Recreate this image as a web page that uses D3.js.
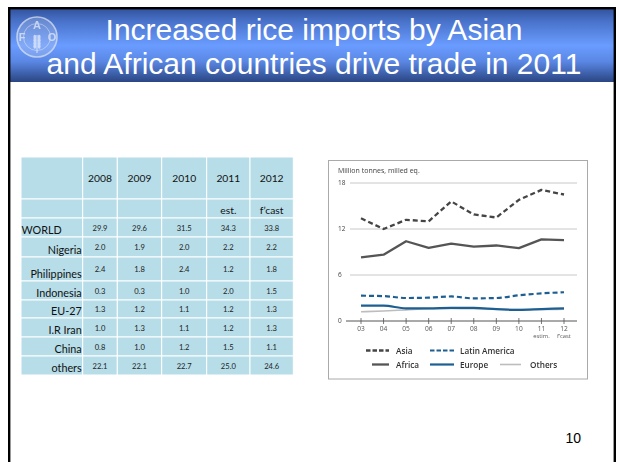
<!DOCTYPE html>
<html>
<head>
<meta charset="utf-8">
<script src="https://cdn.jsdelivr.net/npm/d3@7"></script>
<style>
  html, body { margin: 0; padding: 0; background: #fff; }
  svg { display: block; }
</style>
</head>
<body>
<svg id="slide" width="619" height="462"></svg>
<script>
// ---- Slide title ----
const titleLines = ["Increased rice imports by Asian", "and African countries drive trade in 2011"];
const pageNumber = "10";

// ---- Table: rice imports (million tonnes) ----
const tableYears = ["2008", "2009", "2010", "2011", "2012"];
const tableNotes = ["", "", "", "est.", "f\u2019cast"];
const countries = ["WORLD", "Nigeria", "Philippines", "Indonesia", "EU-27", "I.R Iran", "China", "others"];
const world       = [29.9, 29.6, 31.5, 34.3, 33.8];
const nigeria     = [2.0, 1.9, 2.0, 2.2, 2.2];
const philippines = [2.4, 1.8, 2.4, 1.2, 1.8];
const indonesia   = [0.3, 0.3, 1.0, 2.0, 1.5];
const eu27        = [1.3, 1.2, 1.1, 1.2, 1.3];
const iran        = [1.0, 1.3, 1.1, 1.2, 1.3];
const china       = [0.8, 1.0, 1.2, 1.5, 1.1];
const othersRow   = [22.1, 22.1, 22.7, 25.0, 24.6];
const tableRows = [world, nigeria, philippines, indonesia, eu27, iran, china, othersRow];

// ---- Line chart: imports by region, million tonnes milled eq. ----
const chartYears = [2003, 2004, 2005, 2006, 2007, 2008, 2009, 2010, 2011, 2012];
const yearLabels = ["03", "04", "05", "06", "07", "08", "09", "10", "11", "12"];
const yearNotes  = ["", "", "", "", "", "", "", "", "estim.", "f\u2019cast"];
const yTicks = [0, 6, 12, 18];
const asia         = [13.4, 12.0, 13.2, 13.0, 15.6, 13.9, 13.5, 15.8, 17.1, 16.5];
const africa       = [8.3, 8.65, 10.4, 9.55, 10.1, 9.7, 9.85, 9.5, 10.65, 10.55];
const latinAmerica = [3.3, 3.25, 3.0, 3.05, 3.2, 2.95, 3.0, 3.35, 3.6, 3.75];
const europe       = [2.0, 2.0, 1.65, 1.65, 1.7, 1.7, 1.55, 1.45, 1.55, 1.65];
const othersRegion = [1.2, 1.3, 1.45, 1.6, 1.65, 1.6, 1.55, 1.5, 1.5, 1.55];
const seriesNames = ["Asia", "Latin America", "Africa", "Europe", "Others"];

const svg = d3.select("#slide");
const defs = svg.append("defs");

// title band gradient
const grad = defs.append("linearGradient").attr("id", "band").attr("x1", 0).attr("y1", 0).attr("x2", 0).attr("y2", 1);
[[0, "#33549e"], [0.18, "#4a74cc"], [0.5, "#6a9cff"], [0.72, "#5a87e4"], [1, "#2a4582"]]
  .forEach(([o, c]) => grad.append("stop").attr("offset", o).attr("stop-color", c));

const soft = defs.append("filter").attr("id", "soft");
soft.append("feGaussianBlur").attr("stdDeviation", 0.45);

// slide frame and title band
svg.append("rect").attr("x", 0).attr("y", 0).attr("width", 619).attr("height", 462).attr("fill", "#fff");
svg.append("rect").attr("x", 10).attr("y", 9).attr("width", 604).attr("height", 73).attr("fill", "url(#band)");
svg.append("rect").attr("x", 9.2).attr("y", 8.2).attr("width", 605.6).attr("height", 480)
  .attr("fill", "none").attr("stroke", "#000").attr("stroke-width", 2.4);

// emblem
const logo = svg.append("g").attr("transform", "translate(37,37)").attr("opacity", 0.75);
logo.append("circle").attr("r", 20).attr("fill", "rgba(200,212,235,0.35)").attr("stroke", "#dde4f0").attr("stroke-width", 1.6);
logo.append("circle").attr("r", 13.5).attr("fill", "none").attr("stroke", "#dde4f0").attr("stroke-width", 0.8);
[["F", -15, 4], ["A", 0, -8], ["O", 15, 4]].forEach(([t, x, y]) =>
  logo.append("text").attr("x", x).attr("y", y).attr("text-anchor", "middle")
    .attr("font-family", "Liberation Sans, Arial, sans-serif").attr("font-weight", "bold")
    .attr("font-size", 11).attr("fill", "#eef2fa").text(t));
logo.append("line").attr("x1", 0).attr("y1", -2).attr("x2", 0).attr("y2", 16).attr("stroke", "#eef2fa").attr("stroke-width", 1.2);
d3.range(4).forEach(i => {
  [-1, 1].forEach(s => logo.append("ellipse").attr("cx", s * 2.2).attr("cy", 0 + i * 3.2)
    .attr("rx", 1.4).attr("ry", 2.2).attr("fill", "#eef2fa"));
});

svg.selectAll("text.title").data(titleLines).join("text")
  .attr("class", "title")
  .attr("x", 314).attr("y", (d, i) => 40 + i * 34)
  .attr("text-anchor", "middle")
  .attr("font-family", "Liberation Sans, Arial, sans-serif")
  .attr("font-size", 30).attr("fill", "#fff")
  .text(d => d);

svg.append("text").attr("x", 581).attr("y", 443).attr("text-anchor", "end")
  .attr("font-family", "Liberation Sans, Arial, sans-serif").attr("font-size", 14).attr("fill", "#000")
  .text(pageNumber);

// ---- table ----
const colEdges = [21, 82.7, 117.3, 161.7, 206.7, 250, 293.3];
const rowEdges = [157, 199, 218, 237, 257, 281, 300, 318, 337, 356, 375];
const colX = d3.scaleOrdinal().domain(d3.range(colEdges.length)).range(colEdges);
const rowY = d3.scaleOrdinal().domain(d3.range(rowEdges.length)).range(rowEdges);
const fmt = d3.format(".1f");
const tableFont = "Lato, 'Open Sans', sans-serif";
const table = svg.append("g");

const cells = [];
for (let r = 0; r < rowEdges.length - 1; r++)
  for (let c = 0; c < colEdges.length - 1; c++) cells.push({ r, c });
table.selectAll("rect.cell").data(cells).join("rect")
  .attr("class", "cell")
  .attr("x", d => colX(d.c)).attr("y", d => rowY(d.r))
  .attr("width", d => colX(d.c + 1) - colX(d.c)).attr("height", d => rowY(d.r + 1) - rowY(d.r))
  .attr("fill", "#b7dde8").attr("stroke", "#fff").attr("stroke-width", 1);

const midCol = c => (colX(c + 1) + colX(c)) / 2;
table.selectAll("text.year").data(tableYears).join("text")
  .attr("x", (d, i) => midCol(i + 1)).attr("y", (rowY(0) + rowY(1)) / 2 + 4)
  .attr("text-anchor", "middle").attr("font-family", tableFont).attr("font-size", 10.3).attr("fill", "#111")
  .text(d => d);
table.selectAll("text.note").data(tableNotes).join("text")
  .attr("x", (d, i) => midCol(i + 1)).attr("y", rowY(2) - 4.5)
  .attr("text-anchor", "middle").attr("font-family", tableFont).attr("font-size", 10.3).attr("fill", "#111")
  .text(d => d);

table.selectAll("text.country").data(countries).join("text")
  .attr("x", (d, i) => i === 0 ? colX(0) + 0.5 : colX(1) - 1)
  .attr("y", (d, i) => rowY(i + 3) - 3.2)
  .attr("text-anchor", (d, i) => i === 0 ? "start" : "end")
  .attr("font-family", tableFont).attr("font-size", 10.8).attr("fill", "#111")
  .text(d => d);

tableRows.forEach((row, ri) => {
  table.selectAll("text.v" + ri).data(row).join("text")
    .attr("x", (d, i) => midCol(i + 1))
    .attr("y", (rowY(ri + 2) + rowY(ri + 3)) / 2 + 3)
    .attr("text-anchor", "middle").attr("font-family", tableFont).attr("font-size", 7.6).attr("fill", "#222")
    .text(d => fmt(d));
});

// ---- line chart inset ----
const chart = svg.append("g").attr("filter", "url(#soft)");
chart.append("rect").attr("x", 328.5).attr("y", 160.5).attr("width", 259).attr("height", 218.5)
  .attr("fill", "#fff").attr("stroke", "#aaa").attr("stroke-width", 1);

const x = d3.scaleLinear().domain([2003, 2012]).range([361, 564]);
const y = d3.scaleLinear().domain([0, 18]).range([321, 183]);
const chartFont = "'Open Sans', 'Noto Sans', sans-serif";

chart.append("text").attr("x", 338).attr("y", 173).attr("font-family", chartFont)
  .attr("font-size", 7).attr("fill", "#444").text("Million tonnes, milled eq.");

chart.selectAll("line.grid").data(yTicks.filter(v => v > 0)).join("line")
  .attr("x1", 350).attr("x2", 577).attr("y1", d => y(d)).attr("y2", d => y(d))
  .attr("stroke", "#c8c8c8").attr("stroke-width", 1);
chart.selectAll("text.ylab").data(yTicks).join("text")
  .attr("x", 338).attr("y", d => y(d) + 2.2).attr("font-family", chartFont)
  .attr("font-size", 6.5).attr("fill", "#444").text(d => d);

chart.append("line").attr("x1", 346).attr("x2", 577).attr("y1", y(0)).attr("y2", y(0))
  .attr("stroke", "#555").attr("stroke-width", 1);
chart.selectAll("line.tick").data(chartYears).join("line")
  .attr("x1", d => x(d)).attr("x2", d => x(d)).attr("y1", y(0) - 3).attr("y2", y(0) + 3)
  .attr("stroke", "#555").attr("stroke-width", 0.8);
chart.selectAll("text.xlab").data(chartYears).join("text")
  .attr("x", d => x(d)).attr("y", y(0) + 9.5).attr("text-anchor", "middle")
  .attr("font-family", chartFont).attr("font-size", 6.6).attr("fill", "#555")
  .text((d, i) => yearLabels[i]);
chart.selectAll("text.xnote").data(chartYears).join("text")
  .attr("x", d => x(d)).attr("y", y(0) + 16.5).attr("text-anchor", "middle")
  .attr("font-family", chartFont).attr("font-size", 5.8).attr("fill", "#555")
  .text((d, i) => yearNotes[i]);

const styles = {
  "Asia":          { values: asia,         color: "#454545", width: 2.3, dash: "5,3",  curve: d3.curveLinear },
  "Africa":        { values: africa,       color: "#555555", width: 2.3, dash: null,   curve: d3.curveLinear },
  "Others":        { values: othersRegion, color: "#bdbdbd", width: 1.6, dash: null,   curve: d3.curveMonotoneX },
  "Europe":        { values: europe,       color: "#1f5e92", width: 2.2, dash: null,   curve: d3.curveMonotoneX },
  "Latin America": { values: latinAmerica, color: "#1f5e92", width: 2.2, dash: "5,3",  curve: d3.curveMonotoneX }
};
["Others", "Europe", "Latin America", "Africa", "Asia"].forEach(name => {
  const s = styles[name];
  const line = d3.line().x((d, i) => x(chartYears[i])).y(d => y(d)).curve(s.curve);
  chart.append("path").datum(s.values).attr("d", line)
    .attr("fill", "none").attr("stroke", s.color).attr("stroke-width", s.width)
    .attr("stroke-dasharray", s.dash).attr("stroke-linejoin", "round");
});

// legend
const legendPos = {
  "Asia":          { x1: 366, x2: 389, tx: 396, y: 350.5 },
  "Latin America": { x1: 430, x2: 454, tx: 460, y: 350.5 },
  "Africa":        { x1: 372, x2: 389, tx: 396, y: 364.5 },
  "Europe":        { x1: 430, x2: 454, tx: 460, y: 364.5 },
  "Others":        { x1: 500, x2: 521, tx: 530, y: 364.5 }
};
const lg = chart.selectAll("g.lg").data(seriesNames).join("g").attr("class", "lg");
lg.append("line")
  .attr("x1", d => legendPos[d].x1).attr("x2", d => legendPos[d].x2)
  .attr("y1", d => legendPos[d].y).attr("y2", d => legendPos[d].y)
  .attr("stroke", d => styles[d].color).attr("stroke-width", d => styles[d].width)
  .attr("stroke-dasharray", d => styles[d].dash ? "4.5,2" : null);
lg.append("text")
  .attr("x", d => legendPos[d].tx).attr("y", d => legendPos[d].y + 3)
  .attr("font-family", chartFont).attr("font-weight", 600).attr("font-size", 8.2).attr("fill", "#333")
  .text(d => d);
</script>
</body>
</html>
